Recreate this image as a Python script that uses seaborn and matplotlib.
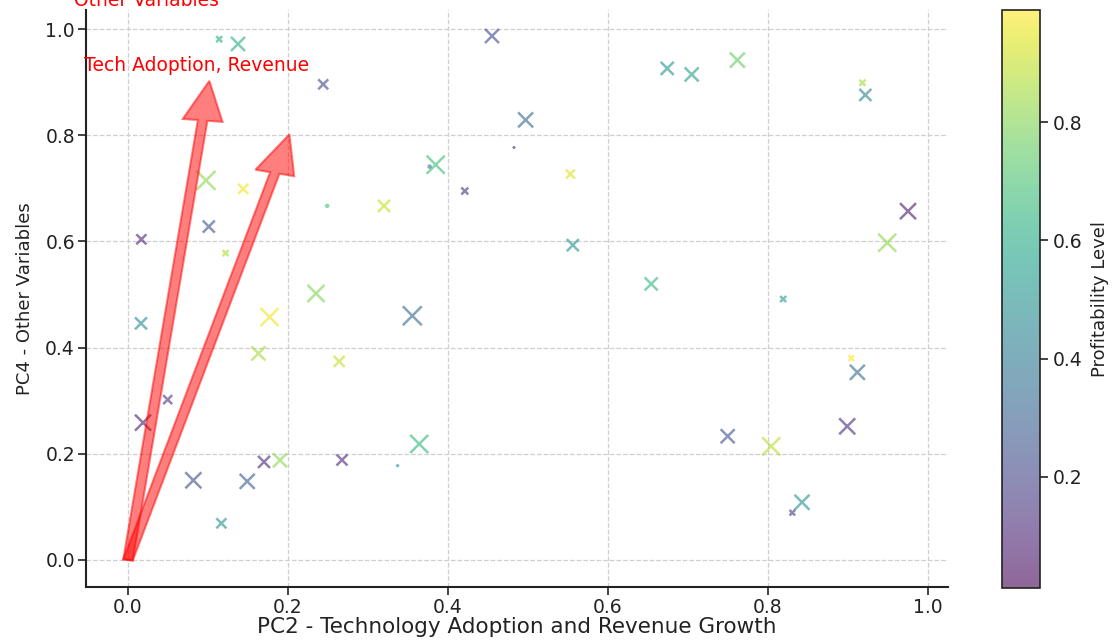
import numpy as np
import pandas as pd
import matplotlib
matplotlib.use("Agg")
import matplotlib.pyplot as plt
import seaborn as sns
from matplotlib.colors import Normalize
from matplotlib.cm import ScalarMappable

# ---- data ----
pc2 = [0.114, 0.1375, 0.244, 0.0975, 0.144, 0.101, 0.0167, 0.122, 0.249, 0.235,
       0.455, 0.497, 0.4825, 0.3846, 0.377, 0.421, 0.32, 0.553, 0.556, 0.654,
       0.674, 0.7046, 0.7617, 0.918, 0.9217, 0.975, 0.949, 0.819, 0.904, 0.9117,
       0.899, 0.7496, 0.804, 0.8425, 0.8304, 0.3554, 0.364, 0.337, 0.01625, 0.177,
       0.163, 0.264, 0.0496, 0.01875, 0.17, 0.19, 0.2675, 0.0817, 0.149, 0.1167]
pc4 = [0.981, 0.972, 0.896, 0.715, 0.699, 0.628, 0.604, 0.578, 0.667, 0.502,
       0.987, 0.829, 0.777, 0.7445, 0.741, 0.695, 0.667, 0.727, 0.593, 0.52,
       0.926, 0.9146, 0.9416, 0.899, 0.876, 0.657, 0.5976, 0.4915, 0.380, 0.3534,
       0.2517, 0.233, 0.214, 0.1086, 0.089, 0.46, 0.2185, 0.1777, 0.4457, 0.4576,
       0.389, 0.374, 0.302, 0.2586, 0.1846, 0.1877, 0.1883, 0.15, 0.148, 0.069]
profitability = [0.62, 0.63, 0.22, 0.82, 0.97, 0.25, 0.10, 0.87, 0.70, 0.80,
                 0.22, 0.33, 0.15, 0.68, 0.40, 0.15, 0.90, 0.93, 0.50, 0.65,
                 0.52, 0.56, 0.75, 0.85, 0.45, 0.07, 0.82, 0.55, 0.98, 0.35,
                 0.12, 0.25, 0.88, 0.50, 0.18, 0.33, 0.65, 0.50, 0.47, 0.97,
                 0.85, 0.90, 0.15, 0.08, 0.12, 0.82, 0.12, 0.22, 0.28, 0.50]
marker_area = [19, 102, 52, 187, 52, 75, 52, 19, 5, 150,
               102, 117, 1.2, 168, 5, 25, 75, 42, 75, 88,
               88, 102, 117, 19, 75, 133, 168, 19, 16, 117,
               133, 102, 168, 117, 16, 187, 168, 2, 75, 168,
               102, 63, 42, 133, 75, 102, 63, 133, 117, 52]

features = ["Tech Adoption, Revenue", "Other Variables"]
loading_pc2 = [0.0933, 0.1835]
loading_pc4 = [0.828, 0.729]

df = pd.DataFrame({"pc2": pc2, "pc4": pc4, "profit": profitability, "area": marker_area})

# ---- figure ----
sns.set_style("ticks")
plt.rcParams["font.family"] = ["DejaVu Sans"]
fig = plt.figure(figsize=(11.14, 6.42), dpi=100)
ax = fig.add_axes([86 / 1114, 1 - 587 / 642, 862 / 1114, 577 / 642])
cax = fig.add_axes([1002 / 1114, 1 - 588 / 642, 38 / 1114, 578 / 642])

vmin, vmax = 0.012, 0.99
sns.scatterplot(data=df, x="pc2", y="pc4", hue="profit", size="area",
                sizes=(min(marker_area), max(marker_area)),
                size_norm=(min(marker_area), max(marker_area)),
                palette="viridis", hue_norm=(vmin, vmax), marker="x",
                alpha=0.6, linewidth=1.8, legend=False, ax=ax, zorder=3)

for fx, fy in zip(loading_pc2, loading_pc4):
    ax.arrow(0, 0, fx, fy, color="r", alpha=0.5, width=0.012,
             head_width=0.05, head_length=0.075, linewidth=1.5, zorder=4)

ax.text(0.086, 0.932, features[0], color="red", ha="center", va="center",
        fontsize=13.5, zorder=5)
ax.text(0.023, 1.054, features[1], color="red", ha="center", va="center",
        fontsize=13.5, zorder=5, clip_on=False)

ax.set_xlim(-0.0525, 1.025)
ax.set_ylim(-0.051, 1.036)
ax.set_xticks([0.0, 0.2, 0.4, 0.6, 0.8, 1.0])
ax.set_yticks([0.0, 0.2, 0.4, 0.6, 0.8, 1.0])
ax.grid(True, linestyle="--", color="#cfcfcf", linewidth=0.9)
ax.set_axisbelow(True)
sns.despine(ax=ax)
for s in ["left", "bottom"]:
    ax.spines[s].set_linewidth(1.5)
    ax.spines[s].set_color("#222222")
ax.tick_params(axis="both", labelsize=13.5, length=6, width=1.2,
               colors="#222222", direction="out", pad=2)
ax.set_xlabel("PC2 - Technology Adoption and Revenue Growth", fontsize=15.5,
              color="#222222", labelpad=0)
ax.set_ylabel("PC4 - Other Variables", fontsize=13, color="#222222", labelpad=8)

sm = ScalarMappable(norm=Normalize(vmin, vmax), cmap="viridis")
sm.set_array([])
cbar = fig.colorbar(sm, cax=cax, alpha=0.6)
cbar.set_ticks([0.2, 0.4, 0.6, 0.8])
cbar.ax.tick_params(labelsize=13.5, length=6, width=1.2, colors="#222222")
cbar.outline.set_linewidth(1.2)
cbar.outline.set_edgecolor("#222222")
cbar.set_label("Profitability Level", fontsize=13, color="#222222", labelpad=6)

fig.savefig("out.png", dpi=100)
